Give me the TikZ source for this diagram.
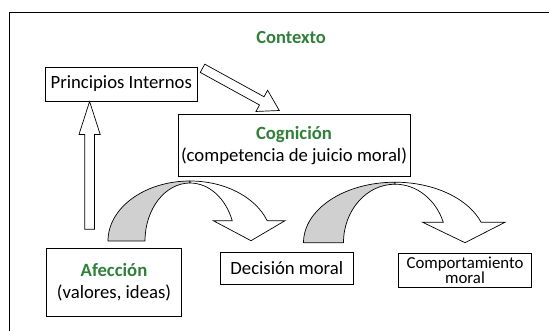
\documentclass[tikz,border=0pt]{standalone}
\usepackage{fontspec}
\setmainfont{Carlito}
\usetikzlibrary{calc}
\definecolor{cgreen}{RGB}{49,128,58}
\definecolor{arcgray}{RGB}{208,208,208}
\tikzset{
  box/.style={draw=black, line width=0.9pt, fill=white, inner sep=0pt, align=center,
              font=\fontsize{18.7}{22.5}\selectfont},
  ttl/.style={font=\fontsize{18.5}{22}\selectfont\bfseries, text=cgreen, inner sep=0pt},
  blockarrow/.style={draw=black, line width=0.7pt, fill=white, line join=miter},
  backpart/.style={draw=black, line width=0.7pt, fill=arcgray, line join=round},
  frontpart/.style={draw=black, line width=0.7pt, fill=white, line join=miter},
  frame/.style={draw=black, line width=0.9pt},
}
\newcommand\blockarr[5]{%
  \coordinate (#1-#2-hb) at ($(#2)!#5!(#1)$);
  \draw[blockarrow] ($(#1)!#3!90:(#2)$) -- ($(#1-#2-hb)!#3!90:(#2)$)
     -- ($(#1-#2-hb)!#4!90:(#2)$) -- (#2) -- ($(#1-#2-hb)!#4!-90:(#2)$)
     -- ($(#1-#2-hb)!#3!-90:(#2)$) -- ($(#1)!#3!-90:(#2)$) -- cycle;}
\begin{document}
\begin{tikzpicture}[x=1pt, y=-1pt]
\useasboundingbox (0,0) rectangle (549,331);
% frame (cut at right and bottom)
\draw[frame] (560,12) -- (9.5,12) -- (9.5,340);

\node[ttl] (ctx) at (291,38) {Contexto};

\node[box, minimum width=151.5pt, minimum height=34pt] (princ) at (121.3,84) {Principios Internos};
\node[box, minimum width=232pt, minimum height=62.4pt] (cogn) at (294,145.5)
  {\textcolor{cgreen}{\bfseries Cognición}\\(competencia de juicio moral)};
\node[box, minimum width=134.8pt, minimum height=67.7pt] (afec) at (114,282.2)
  {\textcolor{cgreen}{\bfseries Afección}\\(valores, ideas)};
\node[box, minimum width=132.4pt, minimum height=32pt] (dec) at (286.8,268.3) {Decisión moral};
\node[box, minimum width=133pt, minimum height=34pt, font=\fontsize{16.8}{15.2}\selectfont] (comp) at (465,270.3)
  {Comportamiento\\moral};

% straight block arrows
\coordinate (upbase) at (89.6,229.3);
\coordinate (uptip) at (princ.south west -| upbase);
\blockarr{upbase}{uptip}{4.9pt}{10.6pt}{33pt}
\coordinate (dgtail) at (202.5,68.3);
\coordinate (dgtip) at (279.3,110.5);
\blockarr{dgtail}{dgtip}{4.7pt}{12.1pt}{20pt}

% curved arrow 1 (Afeccion -> Decision)
\coordinate (c1) at (190,241);
\draw[backpart] ($(c1)+(-82,0)$) arc[start angle=180, end angle=270, x radius=82, y radius=60]
  -- ($(c1)+(0,-58)$) arc[start angle=270, end angle=180, x radius=45, y radius=58] -- cycle;
\draw[frontpart] ($(c1)+(0,-60)$) arc[start angle=270, end angle=340.2, x radius=82, y radius=60]
  -- (285,220.7) -- (251,240.7) -- (213.3,220.7) -- ($(c1)+(42.2,-20.3)$)
  arc[start angle=339.5, end angle=270, x radius=45, y radius=58] -- cycle;

% curved arrow 2 (Decision -> Comportamiento)
\coordinate (c2) at (395,242.7);
\draw[backpart] ($(c2)+(-91.5,0)$) arc[start angle=180, end angle=270, x radius=91.5, y radius=60.5]
  -- ($(c2)+(0,-58.5)$) arc[start angle=270, end angle=180, x radius=51.5, y radius=58.5] -- cycle;
\draw[frontpart] ($(c2)+(0,-60.5)$) arc[start angle=270, end angle=340.3, x radius=91.5, y radius=60.5]
  -- (505,222.3) -- (465,242.7) -- (422.7,222.3) -- ($(c2)+(48.3,-20.4)$)
  arc[start angle=339.6, end angle=270, x radius=51.5, y radius=58.5] -- cycle;
\end{tikzpicture}
\end{document}
